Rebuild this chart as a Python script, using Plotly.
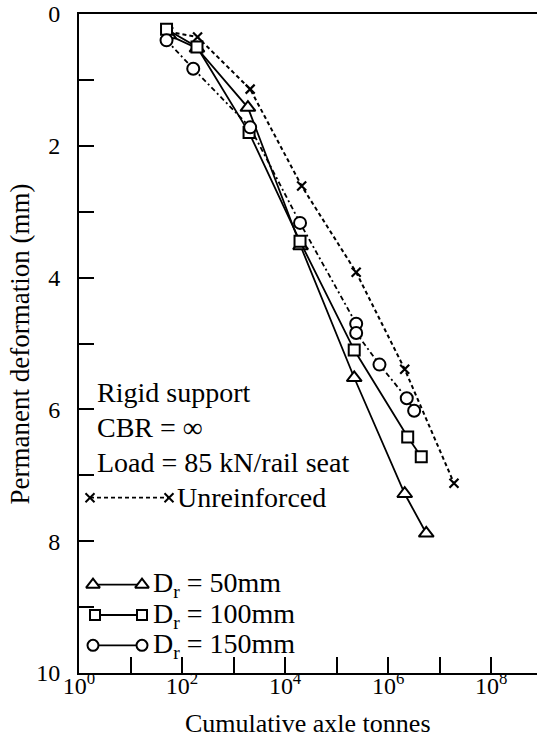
import plotly.graph_objects as go

# ---------------- data ----------------
unre_x = [55, 200, 2100, 21000, 240000, 2100000, 19000000]
unre_y = [0.27, 0.35, 1.14, 2.61, 3.92, 5.39, 7.12]

tri_x = [55, 195, 1900, 20000, 220000, 2100000, 5500000]
tri_y = [0.32, 0.52, 1.42, 3.52, 5.52, 7.28, 7.88]

sq_x = [50, 195, 2000, 19500, 220000, 2400000, 4400000]
sq_y = [0.23, 0.50, 1.80, 3.45, 5.10, 6.42, 6.72]

cir_x = [50, 165, 2100, 19500, 240000, 240000, 680000, 2300000, 3200000]
cir_y = [0.40, 0.83, 1.72, 3.17, 4.70, 4.84, 5.32, 5.83, 6.02]

x_tickvals = [10 ** k for k in range(0, 9, 2)]
x_ticktext = ["10<sup>%d</sup>" % k for k in range(0, 9, 2)]
y_tickvals = list(range(0, 11, 2))
y_ticktext = [str(v) for v in y_tickvals]

FONT = "Liberation Serif, Times New Roman, serif"
BLACK = "black"

fig = go.Figure()

# unreinforced
fig.add_trace(go.Scatter(
    x=unre_x, y=unre_y, mode="lines+markers",
    line=dict(color=BLACK, width=2, dash="4px,3px"),
    marker=dict(symbol="x-thin", size=9, line=dict(color=BLACK, width=2.2)),
    showlegend=False))

# D_r = 50 mm
fig.add_trace(go.Scatter(
    x=tri_x, y=tri_y, mode="lines+markers",
    line=dict(color=BLACK, width=1.8),
    marker=dict(symbol="triangle-up", size=13, color="white",
                line=dict(color=BLACK, width=2)),
    showlegend=False))

# D_r = 100 mm
fig.add_trace(go.Scatter(
    x=sq_x, y=sq_y, mode="lines+markers",
    line=dict(color=BLACK, width=1.8),
    marker=dict(symbol="square", size=11, color="white",
                line=dict(color=BLACK, width=2)),
    showlegend=False))

# D_r = 150 mm
fig.add_trace(go.Scatter(
    x=cir_x, y=cir_y, mode="lines+markers",
    line=dict(color=BLACK, width=1.8, dash="5px,3px,2px,3px"),
    marker=dict(symbol="circle", size=12, color="white",
                line=dict(color=BLACK, width=2)),
    showlegend=False))

# ---------------- hand-drawn key (overlay axis x2 in pixels from plot left) -------------
key_rows = [
    dict(y=7.34, sym="x-thin", size=9, dash="4px,3px", x0=11, x1=90, label="Unreinforced", tx=96),
    dict(y=8.66, sym="triangle-up", size=12, dash="solid", x0=14, x1=63, label="D<sub>r</sub> = 50mm", tx=72),
    dict(y=9.12, sym="square", size=10, dash="solid", x0=16, x1=63, label="D<sub>r</sub> = 100mm", tx=72),
    dict(y=9.58, sym="circle", size=11, dash="solid", x0=14, x1=63, label="D<sub>r</sub> = 150mm", tx=72),
]
for r in key_rows:
    fig.add_trace(go.Scatter(
        x=[r["x0"], r["x1"]], y=[r["y"], r["y"]], xaxis="x2", yaxis="y",
        mode="lines+markers",
        line=dict(color=BLACK, width=1.8, dash=r["dash"]),
        marker=dict(symbol=r["sym"], size=r["size"], color="white",
                    line=dict(color=BLACK, width=2)),
        showlegend=False, hoverinfo="skip"))
    fig.add_annotation(x=r["tx"], y=r["y"], xref="x2", yref="y", text=r["label"],
                       showarrow=False, xanchor="left", yanchor="middle",
                       font=dict(family=FONT, size=28, color=BLACK))

for txt, yy in [("Rigid support", 5.74), ("CBR = ∞", 6.28), ("Load = 85 kN/rail seat", 6.81)]:
    fig.add_annotation(x=16, y=yy, xref="x2", yref="y", text=txt, showarrow=False,
                       xanchor="left", yanchor="middle",
                       font=dict(family=FONT, size=28, color=BLACK))

# axis titles as annotations (placed relative to the plot area)
fig.add_annotation(x=0.5, y=-0.077, xref="paper", yref="paper", text="Cumulative axle tonnes",
                   showarrow=False, xanchor="center", yanchor="middle",
                   font=dict(family=FONT, size=26, color=BLACK))
fig.add_annotation(x=-0.129, y=0.5, xref="paper", yref="paper", text="Permanent deformation (mm)",
                   showarrow=False, xanchor="center", yanchor="middle", textangle=-90,
                   font=dict(family=FONT, size=27, color=BLACK))

fig.update_layout(
    width=537, height=739,
    margin=dict(l=79, r=0, t=14, b=66),
    paper_bgcolor="white", plot_bgcolor="white",
    font=dict(family=FONT, color=BLACK),
    xaxis=dict(
        type="log", range=[0, 8.89], automargin=False,
        tickvals=x_tickvals, ticktext=x_ticktext,
        ticks="inside", ticklen=16, tickwidth=2, tickcolor=BLACK,
        minor=dict(dtick=1, ticks="inside", ticklen=16, tickwidth=2, tickcolor=BLACK, showgrid=False),
        showline=True, linewidth=2, linecolor=BLACK, mirror=True,
        showgrid=False, zeroline=False, ticklabelstandoff=-10,
        ticklabeloverflow="allow",
        tickfont=dict(family=FONT, size=24, color=BLACK),
    ),
    xaxis2=dict(overlaying="x", range=[0, 458], visible=False, showgrid=False,
                zeroline=False, automargin=False),
    yaxis=dict(
        range=[10, 0], automargin=False,
        tickvals=y_tickvals, ticktext=y_ticktext,
        ticks="inside", ticklen=15, tickwidth=2, tickcolor=BLACK,
        minor=dict(dtick=1, tick0=0, ticks="inside", ticklen=15, tickwidth=2, tickcolor=BLACK, showgrid=False),
        showline=True, linewidth=2, linecolor=BLACK, mirror=False,
        showgrid=False, zeroline=False, ticklabelstandoff=12,
        ticklabeloverflow="allow",
        tickfont=dict(family=FONT, size=24, color=BLACK),
    ),
)

# remove the browser's default 8px body margin so the figure sits at the window origin
fig.write_html("out.html", config={"displayModeBar": False},
               post_script="document.body.style.margin='0';")
